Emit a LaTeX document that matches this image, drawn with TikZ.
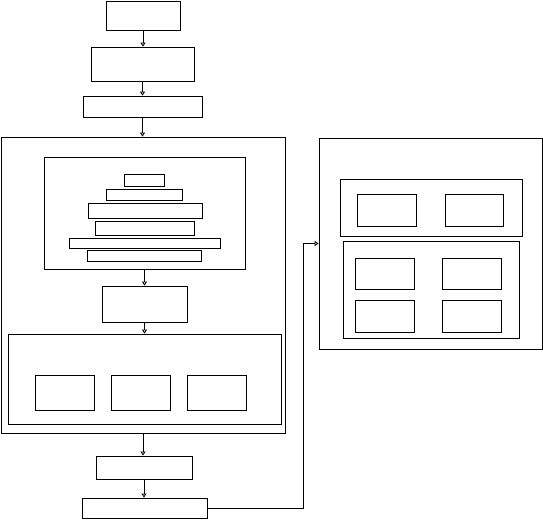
\documentclass[tikz,border=0pt]{standalone}
\usepackage{tikz}
\usetikzlibrary{arrows.meta}

\begin{document}
\begin{tikzpicture}[x=1pt,y=-1pt,line width=0.8pt,
        >={Triangle[open,length=4pt,width=5pt]},
        box/.style={draw,inner sep=0pt,minimum width=#1},
        box/.default=59pt]
        \useasboundingbox (0,0) rectangle (543,519);
        % left column
        \node[box=74pt,minimum height=29pt] (start) at (143,15.5) {};
        \node[box=103pt,minimum height=34pt] (load) at (142.5,64) {};
        \node[box=119pt,minimum height=21pt] (prep) at (142.5,106.5) {};
        \node[box=284pt,minimum height=296pt] (outerL) at (143,285) {};
        \node[box=201pt,minimum height=112pt] (stack) at (144.5,213) {};
        \node[box=40pt,minimum height=12pt] (s1) at (144,180) {};
        \node[box=76pt,minimum height=11pt] (s2) at (144,194.5) {};
        \node[box=114pt,minimum height=15pt] (s3) at (145,210.5) {};
        \node[box=99pt,minimum height=14pt] (s4) at (144.5,228) {};
        \node[box=151pt,minimum height=10pt] (s5) at (144.5,243) {};
        \node[box=114pt,minimum height=11pt] (s6) at (144,255.5) {};
        \node[box=85pt,minimum height=36pt] (mid) at (144.5,304) {};
        \node[box=273pt,minimum height=90pt] (group) at (144.5,379) {};
        \node[box,minimum height=35pt] (g1) at (64.5,392.5) {};
        \node[box,minimum height=35pt] (g2) at (140.5,392.5) {};
        \node[box,minimum height=35pt] (g3) at (216.5,392.5) {};
        \node[box=96pt,minimum height=23pt] (post) at (144,467.5) {};
        \node[box=125pt,minimum height=20pt] (out) at (144.5,508) {};
        % right column
        \node[box=223pt,minimum height=211pt] (outerR) at (430.5,243.5) {};
        \node[box=182pt,minimum height=57pt] (pair) at (431,207.5) {};
        \node[box,minimum height=32pt] (t1) at (386.5,210) {};
        \node[box=58pt,minimum height=32pt] (t2) at (474,210) {};
        \node[box=176pt,minimum height=97pt] (quad) at (431,289.5) {};
        \node[box,minimum height=31pt] (q1) at (384.5,273.5) {};
        \node[box,minimum height=31pt] (q2) at (471.5,273.5) {};
        \node[box,minimum height=32pt] (q3) at (384.5,316) {};
        \node[box,minimum height=32pt] (q4) at (471.5,316) {};
        % arrows
        \draw [->] (start.south) -- (start.south |- load.north);
        \draw [->] (load.south) -- (load.south |- prep.north);
        \draw [->] (prep.south) -- (prep.south |- outerL.north);
        \draw [->] (stack.south) -- (stack.south |- mid.north);
        \draw [->] (mid.south) -- (mid.south |- group.north);
        \draw [->] (outerL.south) -- (outerL.south |- post.north);
        \draw [->] (post.south) -- (post.south |- out.north);
        \draw [->] (out.east) -- ++(96,0) |- (outerR.west);
\end{tikzpicture}
\end{document}
